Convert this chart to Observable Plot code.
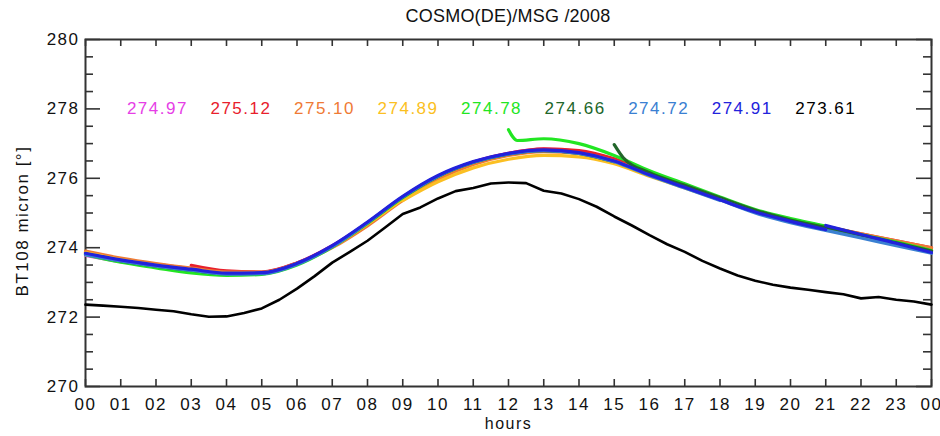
<!DOCTYPE html>
<html>
<head>
<meta charset="utf-8">
<script src="https://cdn.jsdelivr.net/npm/d3@7"></script>
<script src="https://cdn.jsdelivr.net/npm/@observablehq/plot@0.6"></script>
<style>
  body { margin: 0; background: #fff; }
  #wrap { position: relative; width: 940px; height: 436px; font-family: "Liberation Sans", Arial, sans-serif; }
  #title { position: absolute; top: 6px; left: 0; width: 1016px; text-align: center; font-size: 18px; color: #111; letter-spacing: 0.2px; }
  #chart { position: absolute; top: 0; left: 0; }
</style>
</head>
<body>
<div id="wrap">
  <div id="chart"></div>
  <div id="title">COSMO(DE)/MSG /2008</div>
</div>
<script>
// ---------- data ----------
const seriesNames  = ["run00", "run03", "run06", "run09", "run12", "run15", "run18", "run21", "obs"];
const seriesColors = ["#e63ee6", "#e8202c", "#ef7a35", "#fbbf22", "#22e622", "#22662a", "#3a80d2", "#2222dc", "#000000"];
const meanLabels   = [274.97, 275.12, 275.10, 274.89, 274.78, 274.66, 274.72, 274.91, 273.61];

const yMajorTicks = [270, 272, 274, 276, 278, 280];
const yMinorTicks = [270.5, 271, 271.5, 272.5, 273, 273.5, 274.5, 275, 275.5, 276.5, 277, 277.5, 278.5, 279, 279.5];
const xTicks      = [0,1,2,3,4,5,6,7,8,9,10,11,12,13,14,15,16,17,18,19,20,21,22,23,24];
const xTickLabels = ["00","01","02","03","04","05","06","07","08","09","10","11","12","13","14","15","16","17","18","19","20","21","22","23","00"];

// each series: hours / values; a repeated hour starts a new run segment
const run00H = [0,1,2,3,4,5,6,7,8,9,10,11,12,13,14,15,16,17,18,19,20,21,22,23,24];
const run00V = [273.78,273.60,273.47,273.36,273.27,273.29,273.56,274.06,274.72,275.45,276.05,276.47,276.72,276.84,276.78,276.55,276.15,275.78,275.42,275.05,274.78,274.57,274.36,274.15,273.92];

const run03H = [0,1,2,3, 3,4,5,6,7,8,9,10,11,12,13,14,15,16,17,18,19,20,21,22,23,24];
const run03V = [273.86,273.67,273.52,273.40, 273.49,273.33,273.30,273.56,274.05,274.70,275.43,276.03,276.46,276.72,276.85,276.80,276.56,276.16,275.79,275.44,275.08,274.81,274.61,274.40,274.20,274.00];

const run06H = [0,1,2,3,4,5,6, 6,7,8,9,10,11,12,13,14,15,16,17,18,19,20,21,22,23,24];
const run06V = [273.90,273.70,273.54,273.41,273.30,273.30,273.56, 273.55,274.00,274.63,275.36,275.97,276.40,276.66,276.77,276.72,276.50,276.13,275.77,275.42,275.07,274.81,274.60,274.40,274.20,274.00];

const run09H = [0,1,2,3,4,5,6,7,8,9, 9,10,11,12,13,14,15,16,17,18,19,20,21,22,23,24];
const run09V = [273.86,273.66,273.50,273.37,273.26,273.27,273.53,274.02,274.68,275.40, 275.36,275.90,276.30,276.55,276.66,276.62,276.42,276.06,275.72,275.38,275.03,274.76,274.55,274.35,274.14,273.92];

const run12H = [0,1,2,3,4,5,6,7,8,9,10,11,12, 12,12.25,13,14,15,16,17,18,19,20,21,22,23,24];
const run12V = [273.80,273.58,273.42,273.27,273.20,273.23,273.50,274.02,274.70,275.44,276.05,276.46,276.70, 277.40,277.09,277.14,277.00,276.66,276.22,275.84,275.46,275.10,274.84,274.62,274.38,274.16,273.92];

const run15H = [0,1,2,3,4,5,6,7,8,9,10,11,12,13,14,15, 15,15.25,16,17,18,19,20,21,22,23,24];
const run15V = [273.82,273.62,273.47,273.35,273.25,273.26,273.53,274.04,274.72,275.46,276.06,276.46,276.70,276.80,276.72,276.48, 276.97,276.60,276.16,275.80,275.44,275.08,274.80,274.58,274.36,274.14,273.90];

const run18H = [0,1,2,3,4,5,6,7,8,9,10,11,12,13,14,15,16,17,18, 18,19,20,21,22,23,24];
const run18V = [273.80,273.62,273.47,273.35,273.24,273.25,273.52,274.03,274.72,275.46,276.06,276.46,276.70,276.80,276.72,276.48,276.08,275.72,275.36, 275.38,275.00,274.72,274.50,274.28,274.06,273.84];

const run21H = [0,1,2,3,4,5,6,7,8,9,10,11,12,13,14,15,16,17,18,19,20,21, 21,22,23,24];
const run21V = [273.84,273.65,273.50,273.38,273.27,273.28,273.55,274.06,274.74,275.48,276.08,276.48,276.72,276.82,276.74,276.50,276.10,275.74,275.38,275.03,274.76,274.52, 274.64,274.38,274.13,273.86];

const obsH = [0,0.5,1,1.5,2,2.5,3,3.5,4,4.5,5,5.5,6,6.5,7,7.5,8,8.5,9,9.5,10,10.5,11,11.5,12,12.5,13,13.5,14,14.5,15,15.5,16,16.5,17,17.5,18,18.5,19,19.5,20,20.5,21,21.5,22,22.5,23,23.5,24];
const obsV = [272.36,272.33,272.30,272.26,272.21,272.17,272.08,272.01,272.02,272.12,272.25,272.50,272.82,273.18,273.57,273.88,274.20,274.58,274.97,275.16,275.42,275.63,275.72,275.85,275.88,275.86,275.64,275.56,275.40,275.18,274.90,274.64,274.36,274.10,273.88,273.62,273.40,273.20,273.05,272.93,272.85,272.79,272.72,272.66,272.54,272.58,272.50,272.45,272.36];

const seriesH = [run00H, run03H, run06H, run09H, run12H, run15H, run18H, run21H, obsH];
const seriesV = [run00V, run03V, run06V, run09V, run12V, run15V, run18V, run21V, obsV];

// ---------- build tables ----------
function rowsFor(k) {
  const hs = seriesH[k], vs = seriesV[k];
  const out = [];
  let seg = 0;
  for (let i = 0; i < hs.length; i++) {
    if (i > 0 && hs[i] <= hs[i - 1]) seg++;
    out.push({ h: hs[i], v: vs[i], key: seriesNames[k] + "-" + seg });
  }
  return out;
}

const W = 940, H = 436, mL = 85, mR = 9, mT = 39, mB = 50;
const fw = W - mL - mR, fh = H - mT - mB;
const axisColor = "#333";

const marks = [];
// tick marks (inward) on all four sides
marks.push(Plot.tickY(yMajorTicks, { y: d => d, insetRight: fw - 15, stroke: axisColor, strokeWidth: 1.6 }));
marks.push(Plot.tickY(yMajorTicks, { y: d => d, insetLeft: fw - 15, stroke: axisColor, strokeWidth: 1.6 }));
marks.push(Plot.tickY(yMinorTicks, { y: d => d, insetRight: fw - 8, stroke: axisColor, strokeWidth: 1.6 }));
marks.push(Plot.tickY(yMinorTicks, { y: d => d, insetLeft: fw - 8, stroke: axisColor, strokeWidth: 1.6 }));
marks.push(Plot.tickX(xTicks, { x: d => d, insetTop: fh - 7, stroke: axisColor, strokeWidth: 1.6 }));
marks.push(Plot.tickX(xTicks, { x: d => d, insetBottom: fh - 7, stroke: axisColor, strokeWidth: 1.6 }));
marks.push(Plot.frame({ stroke: axisColor, strokeWidth: 2 }));

// axes (labels only)
marks.push(Plot.axisY({ ticks: yMajorTicks, tickSize: 0, tickPadding: 6, fontSize: 17, label: null, tickFormat: d => String(d) }));
marks.push(Plot.axisX({ ticks: xTicks, tickSize: 0, tickPadding: 11, fontSize: 17, label: null, tickFormat: d => xTickLabels[xTicks.indexOf(d)] }));

// series lines
for (let k = 0; k < seriesNames.length; k++) {
  const isObs = seriesNames[k] === "obs";
  marks.push(Plot.line(rowsFor(k), {
    x: "h", y: "v", z: "key",
    stroke: seriesColors[k],
    strokeWidth: isObs ? 2.6 : 3.2,
    curve: isObs ? "linear" : "monotone-x"
  }));
}

// mean value labels
meanLabels.forEach((m, i) => {
  marks.push(Plot.text([m], {
    x: () => 2.04 + 2.37 * i, y: () => 278,
    text: d => d.toFixed(2), fill: seriesColors[i], fontSize: 17, textAnchor: "middle"
  }));
});

// axis titles
marks.push(Plot.text(["BT108 micron [°]"], { frameAnchor: "left", dx: -63, dy: 8, rotate: -90, textAnchor: "middle", fontSize: 17, fill: "#111", text: d => d }));
marks.push(Plot.text(["hours"], { frameAnchor: "bottom", dy: 42, textAnchor: "middle", fontSize: 16, fill: "#111", text: d => d }));

const chart = Plot.plot({
  width: W, height: H,
  marginLeft: mL, marginRight: mR, marginTop: mT, marginBottom: mB,
  x: { domain: [0, 24] },
  y: { domain: [270, 280] },
  style: { fontFamily: "Liberation Sans, Arial, sans-serif", letterSpacing: "1.5px", color: "#111", background: "#fff", overflow: "visible" },
  marks
});
document.getElementById("chart").appendChild(chart);
</script>
</body>
</html>
